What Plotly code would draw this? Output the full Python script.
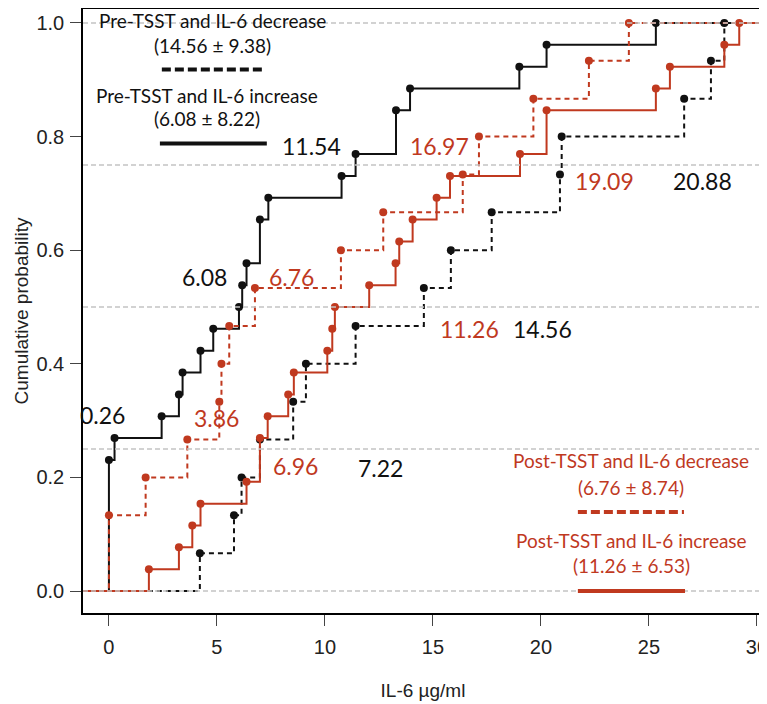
import numpy as np
import plotly.graph_objects as go

# IL-6 values (µg/ml)
pre_increase = [0, 0, 0, 0, 0, 0, 0.26, 2.44, 3.24, 3.41, 4.24, 4.83, 6.02, 6.17, 6.37,
                6.99, 6.99, 7.38, 10.77, 11.42, 13.29, 13.29, 13.94, 19.0, 20.26, 25.32]
pre_decrease = [4.21, 5.79, 6.14, 6.99, 8.53, 9.12, 11.42, 14.58, 15.83, 17.72,
                20.88, 20.96, 26.63, 27.87, 28.49]
post_decrease = [0, 0, 1.70, 3.63, 5.11, 5.21, 5.57, 6.76, 10.74, 12.70, 16.38,
                 17.13, 19.65, 22.22, 24.07]
post_increase = [1.85, 3.24, 3.86, 4.24, 6.37, 6.99, 6.99, 7.35, 8.30, 8.56, 10.11,
                 10.34, 10.46, 12.05, 13.27, 13.44, 14.06, 15.17, 15.79, 19.03, 20.26,
                 20.26, 25.32, 25.97, 28.49, 29.18]

# quartile labels written on the plot
quartile_labels = ["11.54", "6.08", "6.76", "0.26", "3.86", "6.96", "7.22",
                   "16.97", "19.09", "20.88", "11.26", "14.56"]

legend_titles = ["Pre-TSST and IL-6 decrease", "Pre-TSST and IL-6 increase",
                 "Post-TSST and IL-6 decrease", "Post-TSST and IL-6 increase"]
legend_stats = ["(14.56 ± 9.38)", "(6.08 ± 8.22)", "(6.76 ± 8.74)", "(11.26 ± 6.53)"]

BLACK = "#111111"
RED = "#C0391F"
X_RANGE = [-1.2, 30.28]
# page body margin pushes the figure down 8px, so the top of the range is trimmed
Y_RANGE = [-0.0387, 1.0246]
DASH = "5px,4px"


def ecdf(values):
    v = np.sort(np.asarray(values, dtype=float))
    xs, counts = np.unique(v, return_counts=True)
    return xs, np.cumsum(counts) / len(v)


fig = go.Figure()

series = [
    (pre_increase, BLACK, "solid"),
    (pre_decrease, BLACK, DASH),
    (post_increase, RED, "solid"),
    (post_decrease, RED, DASH),
]
for vals, color, dash in series:
    xs, fs = ecdf(vals)
    lx = [X_RANGE[0] - 2] + list(xs) + [X_RANGE[1] + 2]
    ly = [0] + list(fs) + [1]
    fig.add_trace(go.Scatter(x=lx, y=ly, mode="lines", line_shape="hv",
                             line=dict(color=color, width=2, dash=dash),
                             hoverinfo="skip", showlegend=False))
    fig.add_trace(go.Scatter(x=xs, y=fs, mode="markers",
                             marker=dict(color=color, size=8),
                             showlegend=False))

# grey reference lines at quartiles, drawn over the curves
for q in [0, 0.25, 0.5, 0.75, 1.0]:
    fig.add_shape(type="line", xref="paper", yref="y", x0=0, x1=1, y0=q, y1=q,
                  line=dict(color="#C4C4C4", width=1.5, dash="5px,3px"), layer="above")

# quartile labels
label_pos = [(9.40, 0.783), (4.44, 0.553), (8.47, 0.553), (-0.32, 0.31),
             (5.0, 0.305), (8.66, 0.22), (12.59, 0.2165), (15.32, 0.783),
             (22.96, 0.722), (27.5, 0.722), (16.71, 0.461), (20.09, 0.461)]
label_col = [BLACK, BLACK, RED, BLACK, RED, RED, BLACK, RED, RED, BLACK, RED, BLACK]
for txt, (lx, ly), c in zip(quartile_labels, label_pos, label_col):
    fig.add_annotation(x=lx, y=ly, text=txt, showarrow=False,
                       font=dict(family="Lato", size=23, color=c),
                       xanchor="center", yanchor="middle")

# hand-made legends
leg_text_pos = [
    [(4.79, 1.004), (4.81, 0.961)],
    [(4.52, 0.873), (4.54, 0.832)],
    [(24.19, 0.229), (24.17, 0.183)],
    [(24.19, 0.0886), (24.19, 0.0445)],
]
leg_line_pos = [(2.45, 7.22, 0.918), (2.36, 7.31, 0.788),
                (21.71, 26.62, 0.139), (21.71, 26.67, 0.0)]
leg_col = [BLACK, BLACK, RED, RED]
leg_dash = ["9px,4px", "solid", "9px,4px", "solid"]
for i in range(4):
    (tx, ty), (sx, sy) = leg_text_pos[i]
    fig.add_annotation(x=tx, y=ty, text=legend_titles[i], showarrow=False,
                       font=dict(family="Lato", size=19, color=leg_col[i]),
                       xanchor="center", yanchor="middle")
    fig.add_annotation(x=sx, y=sy, text=legend_stats[i], showarrow=False,
                       font=dict(family="Lato", size=19, color=leg_col[i]),
                       xanchor="center", yanchor="middle")
    x0, x1, yy = leg_line_pos[i]
    fig.add_shape(type="line", x0=x0, x1=x1, y0=yy, y1=yy, xref="x", yref="y",
                  line=dict(color=leg_col[i], width=4, dash=leg_dash[i]), layer="above")

axis_font = dict(family="Liberation Sans", size=20, color="#222222")
title_font = dict(family="Liberation Sans", size=19, color="#222222")
fig.update_xaxes(range=X_RANGE, tickvals=[0, 5, 10, 15, 20, 25, 30],
                 ticks="outside", ticklen=11, tickcolor="#444444", tickwidth=1,
                 showline=True, linecolor="black", linewidth=1.5, mirror=True,
                 showgrid=False, zeroline=False, tickfont=axis_font, automargin=False,
                 ticklabelstandoff=4,
                 title=dict(text="IL-6 µg/ml", font=title_font, standoff=27))
fig.update_yaxes(range=Y_RANGE, tickvals=[0, 0.2, 0.4, 0.6, 0.8, 1.0], tickformat=".1f",
                 ticks="outside", ticklen=11, tickcolor="#444444", tickwidth=1,
                 showline=True, linecolor="black", linewidth=1.5, mirror=True,
                 showgrid=False, zeroline=False, tickfont=axis_font, automargin=False,
                 ticklabelstandoff=2,
                 title=dict(text="Cumulative probability", font=title_font, standoff=3))

fig.update_layout(width=767, height=704, plot_bgcolor="white", paper_bgcolor="white",
                  margin=dict(l=75, r=12, t=1, b=99), showlegend=False)

fig.write_html("out.html")
